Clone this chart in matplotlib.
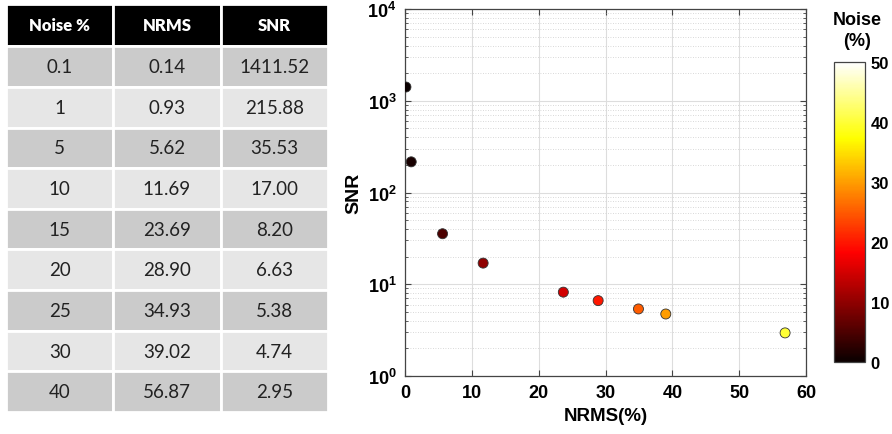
import numpy as np
import matplotlib
matplotlib.use('Agg')
import matplotlib.pyplot as plt
from matplotlib.ticker import FixedLocator, LogLocator, FuncFormatter, NullFormatter

plt.rcParams['font.family'] = ['Liberation Sans', 'DejaVu Sans']
plt.rcParams['mathtext.fontset'] = 'custom'
plt.rcParams['mathtext.rm'] = 'Liberation Sans:bold'
plt.rcParams['mathtext.bf'] = 'Liberation Sans:bold'
plt.rcParams['mathtext.it'] = 'Liberation Sans:bold'

# results per noise level
noise = [0.1, 1, 5, 10, 15, 20, 25, 30, 40]
nrms = [0.14, 0.93, 5.62, 11.69, 23.69, 28.90, 34.93, 39.02, 56.87]
snr = [1411.52, 215.88, 35.53, 17.00, 8.20, 6.63, 5.38, 4.74, 2.95]
col_labels = ['Noise %', 'NRMS', 'SNR']
noise_txt = ['0.1', '1', '5', '10', '15', '20', '25', '30', '40']

fig = plt.figure(figsize=(8.92, 4.35), dpi=100)

# ---- table ----
tax = fig.add_axes([6/892, 1-413/435, 322/892, 408/435])
tax.axis('off')
rows = [[noise_txt[i], '%.2f' % nrms[i], '%.2f' % snr[i]] for i in range(len(noise))]
tbl = tax.table(cellText=rows, colLabels=col_labels, cellLoc='center', bbox=[0, 0, 1, 1])
tbl.auto_set_font_size(False)
for (r, c), cell in tbl.get_celld().items():
    cell.set_edgecolor('white')
    cell.set_linewidth(2)
    txt = cell.get_text()
    txt.set_fontfamily('Lato')
    if r == 0:
        cell.set_facecolor('black')
        cell.set_height(0.42)
        txt.set_color('white')
        txt.set_fontweight('heavy')
        txt.set_fontsize(12)
    else:
        cell.set_height(0.404)
        cell.set_facecolor('#cbcbcb' if r % 2 == 1 else '#e6e6e6')
        txt.set_fontsize(13.5)
        txt.set_color('#222222')

# ---- scatter ----
ax = fig.add_axes([405/892, 1-377/435, 401/892, 367/435])
cmap = plt.get_cmap('hot')
sc = ax.scatter(nrms, snr, c=noise, cmap=cmap, vmin=0, vmax=50, s=52,
                edgecolors='#333333', linewidths=0.6, zorder=3)
ax.set_yscale('log')
ax.set_xlim(0, 60)
ax.set_ylim(1, 1e4)
ax.xaxis.set_major_locator(FixedLocator([0, 10, 20, 30, 40, 50, 60]))
ax.yaxis.set_major_locator(LogLocator(base=10, numticks=10))
ax.yaxis.set_minor_locator(LogLocator(base=10, subs=np.arange(2, 10), numticks=20))
ax.yaxis.set_minor_formatter(NullFormatter())
ax.yaxis.set_major_formatter(FuncFormatter(lambda v, p: r'$10^{%d}$' % round(np.log10(v))))
ax.grid(True, which='major', color='#dddddd', linewidth=0.8)
ax.grid(True, which='minor', axis='y', color='#cccccc', linewidth=0.6, linestyle=(0, (1, 2)))
ax.set_axisbelow(True)
ax.tick_params(which='both', direction='in', top=True, right=True, color='#444444')
ax.tick_params(which='major', length=4, labelsize=13, pad=6)
ax.tick_params(which='minor', length=2)
for lbl in ax.get_xticklabels():
    lbl.set_fontweight('bold')
for s in ax.spines.values():
    s.set_color('#444444')
    s.set_linewidth(0.9)
ax.set_xlabel('NRMS(%)', fontsize=13.5, fontweight='bold', labelpad=4)
ax.set_ylabel('SNR', fontsize=14, fontweight='bold', labelpad=4)

# ---- colorbar ----
cax = fig.add_axes([834/892, 1-363/435, 31/892, 300/435])
cb = fig.colorbar(sc, cax=cax, ticks=[0, 10, 20, 30, 40, 50])
cb.outline.set_edgecolor('#444444')
cb.outline.set_linewidth(0.9)
cax.tick_params(direction='in', length=0, labelsize=12, pad=4)
for lbl in cax.get_yticklabels():
    lbl.set_fontweight('bold')
fig.text(857/892, 1-31/435, 'Noise\n(%)', ha='center', va='center',
         fontsize=13, fontweight='bold', linespacing=1.3)

fig.savefig('out.png', dpi=100)
